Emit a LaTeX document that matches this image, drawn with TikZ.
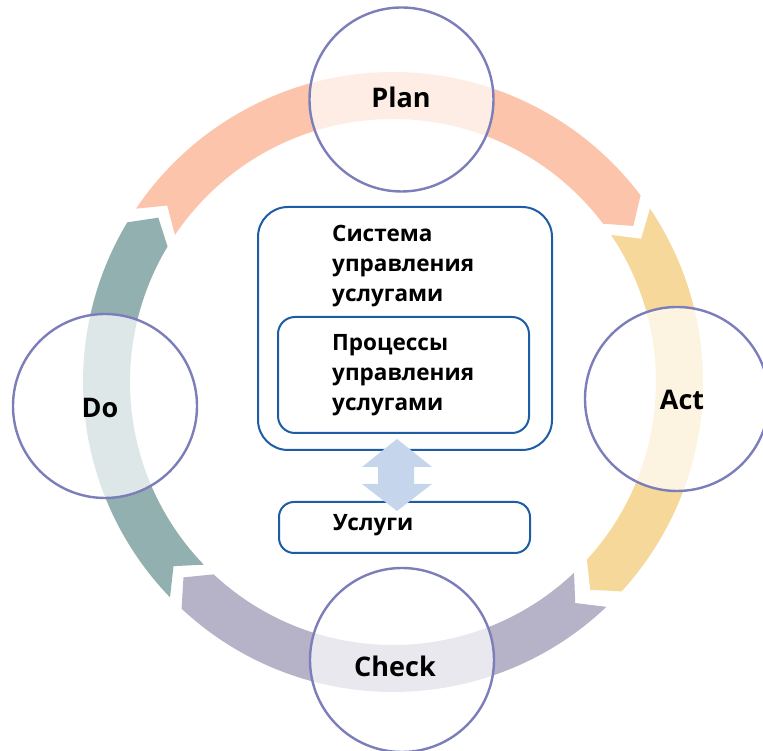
\documentclass[tikz,border=0pt]{standalone}
\usepackage{fontspec}
\setmainfont{Open Sans}
\usetikzlibrary{positioning,
        shapes}
\definecolor{plancol}{RGB}{251,196,171}
\definecolor{actcol}{RGB}{246,216,154}
\definecolor{checkcol}{RGB}{182,178,200}
\definecolor{docol}{RGB}{147,176,176}
\definecolor{ringline}{RGB}{124,126,186}
\definecolor{boxline}{RGB}{30,92,165}
\definecolor{arrowcol}{RGB}{197,214,236}

\begin{document}
\begin{tikzpicture}[x=1pt,y=1pt,
        phase/.style={circle,draw=ringline,line width=2.4pt,fill=white,fill opacity=0.7,minimum size=184pt,inner sep=0pt},
        phasetext/.style={font=\fontsize{27}{32}\selectfont\bfseries},
        blockbox/.style={draw=boxline,line width=2pt,rectangle},
        blocktext/.style={font=\fontsize{22.5}{30}\selectfont\bfseries,align=left,anchor=north west,inner sep=0pt}]
        \useasboundingbox (0,0) rectangle (763,751);

        % ring segments
        \begin{scope}[shift={(393,369)}]
        \foreach \a/\b/\col in {146/37/plancol, 34/-42.5/actcol, -46.5/-133/checkcol, -136/-211/docol}
            \fill[\col] (\a:310) arc[start angle=\a, end angle=\b, radius=310] -- (\b-4:286.5) -- (\b:263)
                arc[start angle=\b, end angle=\a, radius=263] -- (\a-4:286.5) -- cycle;
        \end{scope}

        \node [phase] (planc) at (401.5,651.5) {};
        \node [phase] (actc) at (677,352) {};
        \node [phase] (checkc) at (402,91) {};
        \node [phase] (doc) at (105,345) {};

        \node [phasetext] (plan) at (401,654) {Plan};
        \node [phasetext] (act) at (682,351) {Act};
        \node [phasetext] (check) at (395,85) {Check};
        \node [phasetext] (do) at (100,343) {Do};

        \node [blockbox,rounded corners=30pt,minimum width=294pt,minimum height=243pt] (system) at (405,422.5) {};
        \node [blockbox,rounded corners=17pt,minimum width=251pt,minimum height=116pt] (process) at (403.5,376) {};
        \node [blockbox,rounded corners=15pt,minimum width=251pt,minimum height=51pt] (services) at (404.5,223.5) {};

        \node [blocktext] (systemtext) at (332,526) {Система\\управления\\услугами};
        \node [blocktext] (processtext) at (332,416.5) {Процессы\\управления\\услугами};
        \node [blocktext] (servicestext) at (333,236.5) {Услуги};

        % double arrow between the blocks
        \fill[arrowcol] (397,312) -- (432,284) -- (414,284) -- (414,267) -- (432,267) -- (397,240)
            -- (362,267) -- (378,267) -- (378,284) -- (362,284) -- cycle;
\end{tikzpicture}
\end{document}
